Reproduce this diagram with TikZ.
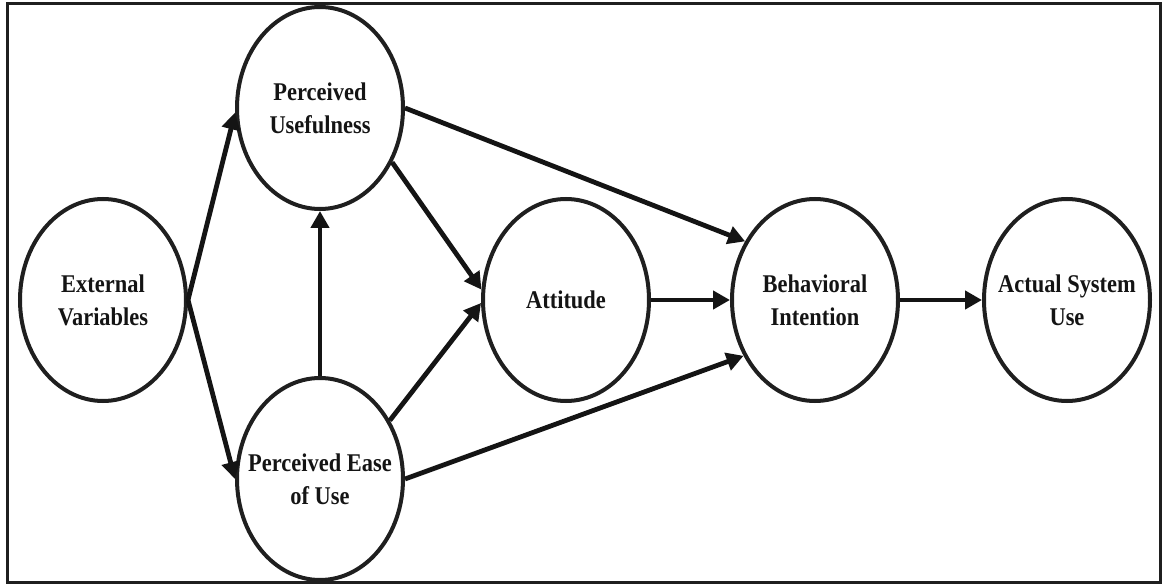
\documentclass[tikz,border=0pt]{standalone}
\usepackage{fontspec}
\setmainfont{Liberation Serif}
\newfontfamily\lblfont[FakeStretch=0.88]{Liberation Serif}
\usetikzlibrary{shapes.geometric,arrows.meta}
\begin{document}
\begin{tikzpicture}[x=1pt,y=-1pt,
  ell/.style={ellipse,draw=black!88,line width=4pt,minimum width=166pt,minimum height=202pt,inner sep=0pt},
  lbl/.style={font=\lblfont\bfseries\fontsize{25.5}{33}\selectfont,align=center,text=black!92,inner sep=0pt},
  arr/.style={draw=black!92,line width=4.8pt,-{Triangle[length=17pt,width=18pt]}}]
\useasboundingbox (0,0) rectangle (1163,585);
\draw[line width=3pt,black!88] (7,4) rectangle (1160,582);

\node[ell] (EV)  at (103,300) {};
\node[ell] (PU)  at (320,108) {};
\node[ell] (PEU) at (320,479) {};
\node[ell] (Att) at (566,300) {};
\node[ell] (BI)  at (815,300) {};
\node[ell] (ASU) at (1067,300) {};

\node[lbl] (tEV)  at (EV)  {External\\Variables};
\node[lbl] (tPU)  at (PU)  {Perceived\\Usefulness};
\node[lbl] (tPEU) at (PEU) {Perceived Ease\\of Use};
\node[lbl] (tAtt) at (Att) {Attitude};
\node[lbl] (tBI)  at (BI)  {Behavioral\\Intention};
\node[lbl] (tASU) at (ASU) {Actual System\\Use};

\draw[arr] (EV.east) -- (PU.183);
\draw[arr] (EV.east) -- (PEU.west);
\draw[arr] (PEU.north) -- (PU.south);
\draw[arr] (PU.-37) -- (Att.173);
\draw[arr] (PEU.40) -- (Att.182);
\draw[arr] (PU.east) -- (BI.140);
\draw[arr] (PEU.east) -- (BI.218);
\draw[arr] (Att.east) -- (BI.west);
\draw[arr] (BI.east) -- (ASU.west);
\end{tikzpicture}
\end{document}
